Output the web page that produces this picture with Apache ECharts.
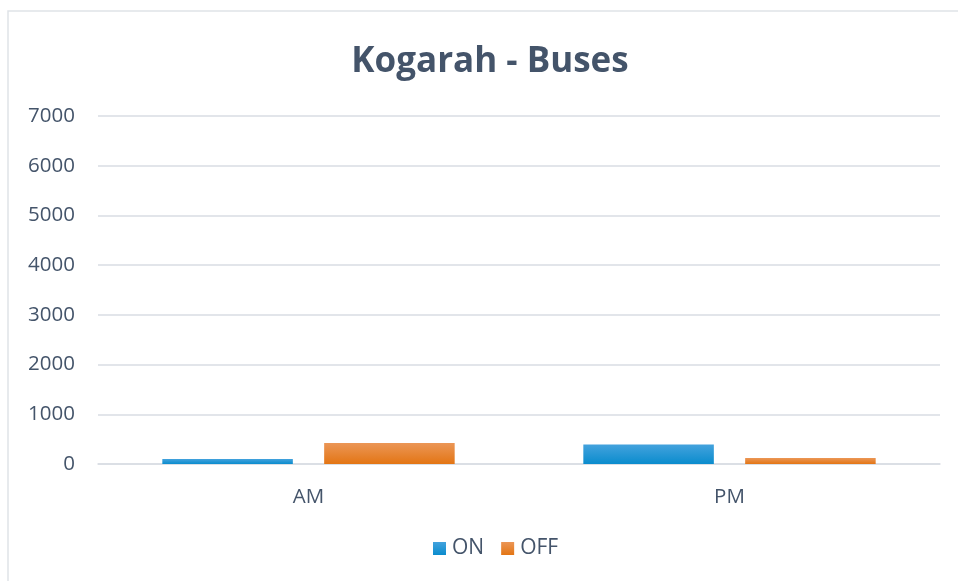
<!DOCTYPE html>
<html>
<head>
<meta charset="utf-8">
<script src="https://cdn.jsdelivr.net/npm/echarts@6/dist/echarts.min.js"></script>
<style>
  html, body { margin: 0; padding: 0; background: #fff; }
  #main { width: 958px; height: 581px; }
</style>
</head>
<body>
<div id="main"></div>
<script>
// data
var categories = ["AM", "PM"];
var onValues = [100, 390];
var offValues = [420, 120];
var yTicks = [0, 1000, 2000, 3000, 4000, 5000, 6000, 7000];

var textColor = "#44546a";

function grad(top, bottom) {
  return new echarts.graphic.LinearGradient(0, 0, 0, 1, [
    { offset: 0, color: top },
    { offset: 1, color: bottom }
  ]);
}

var myChart = echarts.init(document.getElementById("main"));

var option = {
  backgroundColor: "#fff",
  textStyle: { fontFamily: "Open Sans", color: textColor },
  // 外框（左、上两条线）
  graphic: [{
    type: "rect",
    silent: true,
    shape: { x: 8, y: 11, width: 980, height: 600 },
    style: { fill: "none", stroke: "#dfe3e8", lineWidth: 1.5 }
  }],
  title: {
    text: "Kogarah - Buses",
    left: 485,
    top: 40,
    textAlign: "center",
    textStyle: { fontFamily: "Open Sans", fontSize: 35, fontWeight: "bold", color: textColor }
  },
  legend: {
    data: ["ON", "OFF"],
    bottom: 17,
    left: 428,
    itemWidth: 13,
    itemHeight: 13,
    itemGap: 17,
    icon: "rect",
    textStyle: { fontSize: 21, color: textColor, padding: [0, 0, 0, 1] }
  },
  grid: { left: 98, right: 18, top: 116, bottom: 117 },
  xAxis: {
    type: "category",
    data: categories,
    axisLine: { lineStyle: { color: "#d9dde3", width: 1.5 } },
    axisTick: { show: false },
    axisLabel: { fontSize: 20.5, color: textColor, margin: 23 }
  },
  yAxis: {
    type: "value",
    min: yTicks[0],
    max: yTicks[yTicks.length - 1],
    interval: 1000,
    axisLine: { show: false },
    axisTick: { show: false },
    axisLabel: { fontSize: 20.5, color: textColor, margin: 23, padding: [3, 0, 0, 0], formatter: function (v) { return String(v); } },
    splitLine: { lineStyle: { color: "#d9dde3", width: 1.5 } }
  },
  series: [
    {
      name: "ON",
      type: "bar",
      data: onValues,
      barWidth: "31%",
      barGap: "24%",
      itemStyle: { color: grad("#43a2dd", "#0a8ccd") }
    },
    {
      name: "OFF",
      type: "bar",
      data: offValues,
      barWidth: "31%",
      itemStyle: { color: grad("#eb9656", "#e37514") }
    }
  ]
};

myChart.setOption(option);
</script>
</body>
</html>
